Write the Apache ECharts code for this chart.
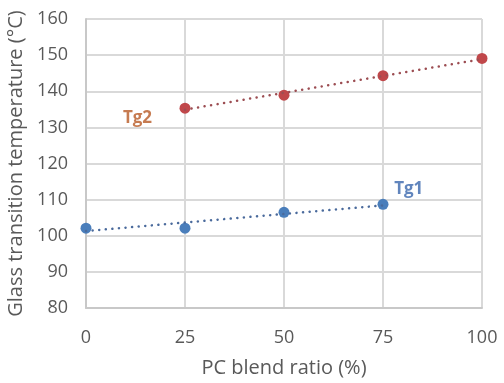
<!DOCTYPE html>
<html><head><meta charset="utf-8">
<script src="https://cdn.jsdelivr.net/npm/echarts@6/dist/echarts.min.js"></script>
<style>html,body{margin:0;padding:0;background:#fff}#c{width:504px;height:383px}</style>
</head><body><div id="c"></div>
<script>
const xTicks = [0, 25, 50, 75, 100];
const tg1X = [0, 25, 50, 75];
const tg1Y = [102.1, 102.1, 106.5, 108.7];
const tg2X = [25, 50, 75, 100];
const tg2Y = [135.3, 138.9, 144.3, 149.1];
const tg1TrendX = [0, 75];
const tg1TrendY = [101.3, 108.4];
const tg2TrendX = [25, 100];
const tg2TrendY = [134.9, 148.9];
const labelNames = ['Tg2', 'Tg1'];
const labelX = [13, 81.5];
const labelY = [132.6, 112.9];

const zip = (xs, ys) => xs.map((x, i) => [x, ys[i]]);
const FONT = 'Open Sans';
const chart = echarts.init(document.getElementById('c'));
chart.setOption({
  animation: false,
  grid: { left: 86, right: 22, top: 19, bottom: 75, containLabel: false, outerBoundsMode: 'none' },
  xAxis: {
    type: 'value', min: 0, max: 100, interval: 25,
    name: 'PC blend ratio (%)', nameLocation: 'middle', nameGap: 50,
    nameTextStyle: { color: '#595959', fontSize: 20, fontFamily: FONT },
    axisLine: { show: true, lineStyle: { color: '#c8c8c8', width: 2 } },
    axisTick: { show: false },
    axisLabel: { color: '#595959', fontSize: 18, fontFamily: FONT, margin: 21 },
    splitLine: { show: true, lineStyle: { color: '#d9d9d9', width: 2 } }
  },
  yAxis: {
    type: 'value', min: 80, max: 160, interval: 10,
    name: 'Glass transition temperature (°C)', nameLocation: 'middle', nameGap: 60,
    nameTextStyle: { color: '#595959', fontSize: 20, fontFamily: FONT },
    axisLine: { show: true, lineStyle: { color: '#c8c8c8', width: 2 } },
    axisTick: { show: false },
    axisLabel: { color: '#595959', fontSize: 18, fontFamily: FONT, margin: 18 },
    splitLine: { show: true, lineStyle: { color: '#d9d9d9', width: 2 } }
  },
  series: [
    { type: 'line', data: zip(tg1TrendX, tg1TrendY), symbol: 'none', silent: true,
      lineStyle: { color: '#4a6a9c', width: 2.5, type: [0.1, 6.5], cap: 'round' } },
    { type: 'line', data: zip(tg2TrendX, tg2TrendY), symbol: 'none', silent: true,
      lineStyle: { color: '#9c4d52', width: 2.5, type: [0.1, 6.5], cap: 'round' } },
    { type: 'scatter', name: 'Tg1', data: zip(tg1X, tg1Y), symbolSize: 11,
      itemStyle: { color: '#4a7ebb', opacity: 1 } },
    { type: 'scatter', name: 'Tg2', data: zip(tg2X, tg2Y), symbolSize: 11,
      itemStyle: { color: '#c0474a', opacity: 1 } },
    { type: 'scatter', silent: true, data: labelNames.map((n, i) => ({
        value: [labelX[i], labelY[i]], name: n,
        label: { show: true, position: 'inside', formatter: n, fontWeight: 'bold', fontSize: 17,
          fontFamily: FONT, color: i === 0 ? '#b85a26' : '#3a67ad' }
      })), symbolSize: 1, itemStyle: { color: 'rgba(0,0,0,0)' } }
  ]
});
</script></body></html>
